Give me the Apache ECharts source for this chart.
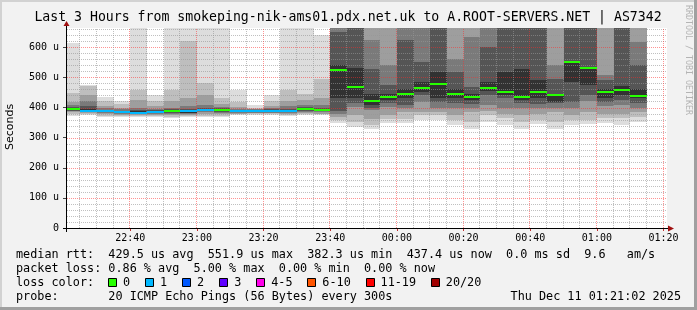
<!DOCTYPE html>
<html><head><meta charset="utf-8">
<script src="https://cdn.jsdelivr.net/npm/echarts@6/dist/echarts.min.js"></script>
<style>html,body{margin:0;padding:0;background:#f2f2f2}#c{width:697px;height:310px}</style>
</head><body><div id="c"></div>
<script>
// ---------------- data ----------------
const titleText = 'Last 3 Hours from smokeping-nik-ams01.pdx.net.uk to A.ROOT-SERVERS.NET | AS7342';
const yAxisTitle = 'Seconds';
const sideText = 'RRDTOOL / TOBI OETIKER';
const viewStart = '22:21:02';
const viewEnd = '01:21:02';
const binMinutes = 5;
const binStarts = ['22:20','22:25','22:30','22:35','22:40','22:45','22:50','22:55',
  '23:00','23:05','23:10','23:15','23:20','23:25','23:30','23:35','23:40','23:45','23:50','23:55',
  '00:00','00:05','00:10','00:15','00:20','00:25','00:30','00:35','00:40','00:45','00:50','00:55',
  '01:00','01:05','01:10'];
// median RTT per 5-min step (microseconds)
const medians = [396,389,389,386,382,385,390,387,392,392,390,390,390,390,396,392,
  525,468,422,435,446,466,478,446,436,465,452,436,450,440,552,531,453,458,437];
// lost pings (of 20) per step
const lossCount = [0,1,1,1,1,1,0,1,1,0,1,1,1,1,0,0,
  0,0,0,0,0,0,0,0,0,0,0,0,0,0,0,0,0,0,0];
// smoke: lower / upper bound of each ping-spread layer (outer -> inner), us
const smokeLo = [
  [372,380,386,388,390,392],[374,378,382,385,386,388],[368,372,378,382,385,387],[368,372,376,380,382,384],
  [368,372,376,378,380,381],[368,372,376,379,381,383],[366,370,375,380,383,386],[368,371,375,378,381,383],
  [370,373,378,384,387,389],[369,373,377,381,384,387],[374,377,380,383,385,387],[376,378,381,383,385,387],
  [375,378,381,383,385,387],[372,375,378,382,384,386],[375,378,382,386,390,393],[374,377,380,384,387,390],
  [350,358,367,378,390,430],[336,352,375,402,415,430],[330,341,363,391,400,408],[350,362,375,402,415,424],
  [347,363,385,400,410,430],[358,374,386,419,440,452],[358,375,386,397,419,430],[341,360,375,400,415,430],
  [330,352,386,400,412,424],[352,375,390,408,440,455],[341,364,380,397,430,440],[330,352,375,400,414,424],
  [345,360,378,400,412,430],[330,352,385,400,415,419],[341,360,375,400,419,485],[345,360,386,420,440,474],
  [347,364,380,405,418,430],[341,364,380,408,425,441],[352,370,386,400,415,430]];
const smokeHi = [
  [615,448,419,410,402,400],[476,472,443,420,405,395],[436,420,405,398,393,391],[422,413,400,394,390,388],
  [700,457,424,400,392,388],[440,422,405,396,392,390],[700,457,420,400,395,392],[700,622,432,405,395,390],
  [700,482,440,410,400,396],[700,430,412,402,397,395],[457,419,402,396,393,391],[410,400,396,394,392,391],
  [440,423,406,398,394,391],[700,458,423,405,396,392],[700,444,425,410,402,399],[642,496,430,410,400,396],
  [700,700,700,700,650,540],[700,700,700,700,700,530],[700,700,700,623,529,446],[700,700,700,540,474,446],
  [700,700,700,700,623,463],[700,700,700,700,551,485],[700,700,700,700,700,518],[700,700,700,562,518,463],
  [700,700,700,634,468,445],[700,700,700,700,601,485],[700,700,700,700,700,518],[700,700,700,700,700,529],
  [700,700,700,700,700,491],[700,700,700,540,496,441],[700,700,700,700,700,551],[700,700,700,700,700,535],
  [700,700,700,507,490,463],[700,700,700,700,700,470],[700,700,700,618,540,463]];
const yMaxValue = 664;
const yTickValues = [0,100,200,300,400,500,600];
const xTickLabels = ['22:40','23:00','23:20','23:40','00:00','00:20','00:40','01:00','01:20'];
const rttLine = 'median rtt:  429.5 us avg  551.9 us max  382.3 us min  437.4 us now  0.0 ms sd  9.6   am/s';
const lossLine = 'packet loss: 0.86 % avg  5.00 % max  0.00 % min  0.00 % now';
const lossLegendTitle = 'loss color:';
const lossLabels = ['0','1','2','3','4-5','6-10','11-19','20/20'];
const probeLine = 'probe:       20 ICMP Echo Pings (56 Bytes) every 300s';
const dateText = 'Thu Dec 11 01:21:02 2025';

// ---------------- styles ----------------
const lossColors = ['#26ff00','#00b8ff','#0059ff','#5e00ff','#ff00ea','#ff5500','#ff0000','#a10000'];
const lossColorFor = n => n <= 0 ? lossColors[0] : n === 1 ? lossColors[1] : n === 2 ? lossColors[2] :
  n === 3 ? lossColors[3] : n <= 5 ? lossColors[4] : n <= 10 ? lossColors[5] : n <= 19 ? lossColors[6] : lossColors[7];
const layerGray = [221,190,158,122,85,50].map(g => 'rgb(' + g + ',' + g + ',' + g + ')');
const MONO = '"DejaVu Sans Mono"';
const G = {left:67, top:28, width:600, height:200};

function toMin(s) {
  const p = s.split(':').map(Number);
  let m = p[0] * 60 + p[1] + (p[2] || 0) / 60;
  if (p[0] < 12) m += 1440;
  return m;
}
function fmtMin(v) {
  const m = Math.round(v) % 1440;
  const h = Math.floor(m / 60), mm = m % 60;
  return String(h).padStart(2, '0') + ':' + String(mm).padStart(2, '0');
}
const X_MIN = toMin(viewStart), X_MAX = toMin(viewEnd);
const xTickVals = xTickLabels.map(toMin);

const smokeData = binStarts.map((s, i) => {
  const x0 = toMin(s);
  return [x0, x0 + binMinutes].concat(smokeLo[i], smokeHi[i]);
});
const medianData = binStarts.map((s, i) => {
  const x0 = toMin(s);
  return [x0, medians[i], x0 + binMinutes, lossCount[i]];
});
const hGrid = [];
for (let v = 20; v < yMaxValue; v += 20) hGrid.push([X_MIN, v]);
const vGrid = [];
for (let t = Math.ceil(X_MIN / 5) * 5; t < X_MAX; t += 5) vGrid.push([t, 0]);

const NL = 6;
const chart = echarts.init(document.getElementById('c'), null, {renderer: 'canvas', width: 697, height: 310});

const graphics = [];
// frame
graphics.push({type:'rect', shape:{x:0,y:0,width:697,height:2}, style:{fill:'#d2d2d2'}, silent:true});
graphics.push({type:'rect', shape:{x:0,y:0,width:2,height:310}, style:{fill:'#d2d2d2'}, silent:true});
graphics.push({type:'rect', shape:{x:694,y:0,width:3,height:310}, style:{fill:'#a0a0a0'}, silent:true});
graphics.push({type:'rect', shape:{x:0,y:307,width:697,height:3}, style:{fill:'#a0a0a0'}, silent:true});
// title
graphics.push({type:'text', x:348, y:18, silent:true,
  style:{text:titleText, font:'13.2px ' + MONO, fill:'#000', textAlign:'center', textVerticalAlign:'middle', align:'center', verticalAlign:'middle'}});
// y axis title
graphics.push({type:'text', x:10, y:127, rotation:Math.PI/2, silent:true,
  style:{text:yAxisTitle, font:'11px "DejaVu Sans"', fill:'#000', textAlign:'center', textVerticalAlign:'middle', align:'center', verticalAlign:'middle'}});
// side text
graphics.push({type:'text', x:688, y:5, rotation:-Math.PI/2, silent:true,
  style:{text:sideText, font:'8.3px ' + MONO, fill:'#b4b4b4', textAlign:'left', textVerticalAlign:'middle', align:'left', verticalAlign:'middle'}});
// axis lines + arrows
const ax0 = G.top + G.height + 0.5, ayx = G.left - 0.5;
graphics.push({type:'line', silent:true, z:10, shape:{x1:G.left-4, y1:ax0, x2:G.left+G.width+1, y2:ax0}, style:{stroke:'#000', lineWidth:1}});
graphics.push({type:'polygon', silent:true, z:10, shape:{points:[[G.left+G.width+1, ax0-3],[G.left+G.width+1, ax0+3],[G.left+G.width+7, ax0]]}, style:{fill:'#a01010'}});
graphics.push({type:'line', silent:true, z:10, shape:{x1:ayx, y1:G.top+G.height+4, x2:ayx, y2:G.top-2}, style:{stroke:'#000', lineWidth:1}});
graphics.push({type:'polygon', silent:true, z:10, shape:{points:[[ayx-3, G.top-2],[ayx+3, G.top-2],[ayx, G.top-7]]}, style:{fill:'#a01010'}});
// legend lines
const legFont = '11.8px ' + MONO;
const legY = [254.5, 268.5, 282.5, 296.5];
[[rttLine, 0], [lossLine, 1], [lossLegendTitle, 2], [probeLine, 3]].forEach(([t, r]) => {
  graphics.push({type:'text', x:16, y:legY[r], silent:true,
    style:{text:t, font:legFont, fill:'#000', textAlign:'left', textVerticalAlign:'middle', align:'left', verticalAlign:'middle'}});
});
graphics.push({type:'text', x:681, y:legY[3], silent:true,
  style:{text:dateText, font:legFont, fill:'#000', textAlign:'right', textVerticalAlign:'middle', align:'right', verticalAlign:'middle'}});
let bx = 108;
lossLabels.forEach((lab, i) => {
  graphics.push({type:'rect', silent:true, shape:{x:Math.round(bx)+0.5, y:278.5, width:8, height:8}, style:{fill:lossColors[i], stroke:'#000', lineWidth:1}});
  graphics.push({type:'text', x:bx+15, y:legY[2], silent:true,
    style:{text:lab, font:legFont, fill:'#000', textAlign:'left', textVerticalAlign:'middle', align:'left', verticalAlign:'middle'}});
  bx += 15 + lab.length * 7.05 + 15;
});

const option = {
  animation: false,
  backgroundColor: '#f2f2f2',
  grid: {left:G.left, top:G.top, width:G.width, height:G.height, show:true, backgroundColor:'#ffffff', borderWidth:0},
  xAxis: {
    type:'value', min:X_MIN, max:X_MAX,
    axisLine:{show:false}, splitLine:{show:false},
    axisTick:{show:true, customValues:xTickVals, length:3, lineStyle:{color:'#c03030'}},
    axisLabel:{customValues:xTickVals, formatter:fmtMin, fontFamily:'DejaVu Sans Mono', fontSize:10, color:'#000', margin:5}
  },
  yAxis: {
    type:'value', min:0, max:yMaxValue,
    axisLine:{show:false}, splitLine:{show:false},
    axisTick:{show:true, customValues:yTickValues, length:4, lineStyle:{color:'#444'}},
    axisLabel:{customValues:yTickValues, formatter:v => v === 0 ? '0' : v + ' u', fontFamily:'DejaVu Sans Mono', fontSize:10, color:'#000', margin:8}
  },
  series: [
    {
      type:'custom', name:'smoke', z:2, clip:true, silent:true, data:smokeData,
      renderItem: (params, api) => {
        const x0 = api.value(0), x1 = api.value(1);
        const children = [];
        for (let k = 0; k < NL; k++) {
          const lo = api.value(2 + k), hi = api.value(2 + NL + k);
          const a = api.coord([x0, hi]), b = api.coord([x1, lo]);
          const xa = Math.round(a[0]), xb = Math.round(b[0]);
          const ya = Math.round(a[1]), yb = Math.round(b[1]);
          children.push({type:'rect', shape:{x:xa, y:ya, width:xb - xa, height:yb - ya}, style:{fill:layerGray[k]}});
        }
        return {type:'group', children};
      }
    },
    {
      type:'custom', name:'hgrid', z:3, clip:true, silent:true, data:hGrid,
      renderItem: (params, api) => {
        const v = api.value(1);
        const a = api.coord([X_MIN, v]), b = api.coord([X_MAX, v]);
        const y = Math.round(a[1]) + 0.5;
        const major = v % 100 === 0;
        return {type:'line', shape:{x1:a[0], y1:y, x2:b[0], y2:y},
          style:{stroke: major ? 'rgba(255,40,40,0.5)' : 'rgba(150,150,150,0.6)', lineWidth:1, lineDash:[1,1]}};
      }
    },
    {
      type:'custom', name:'vgrid', z:3, clip:true, silent:true, data:vGrid,
      renderItem: (params, api) => {
        const t = api.value(0);
        const a = api.coord([t, 0]), b = api.coord([t, yMaxValue]);
        const x = Math.round(a[0]) - 0.5;
        const major = Math.round(t) % 20 === 0;
        return {type:'line', shape:{x1:x, y1:a[1], x2:x, y2:b[1]},
          style:{stroke: major ? 'rgba(255,40,40,0.5)' : 'rgba(150,150,150,0.6)', lineWidth:1, lineDash:[1,1]}};
      }
    },
    {
      type:'custom', name:'median', z:5, clip:true, silent:true, data:medianData,
      renderItem: (params, api) => {
        const a = api.coord([api.value(0), api.value(1)]), b = api.coord([api.value(2), api.value(1)]);
        const y = Math.round(a[1]);
        return {type:'line', shape:{x1:Math.round(a[0]), y1:y, x2:Math.round(b[0]), y2:y},
          style:{stroke: lossColorFor(api.value(3)), lineWidth:2}};
      }
    }
  ],
  graphic: graphics
};
chart.setOption(option);
</script>
</body></html>
